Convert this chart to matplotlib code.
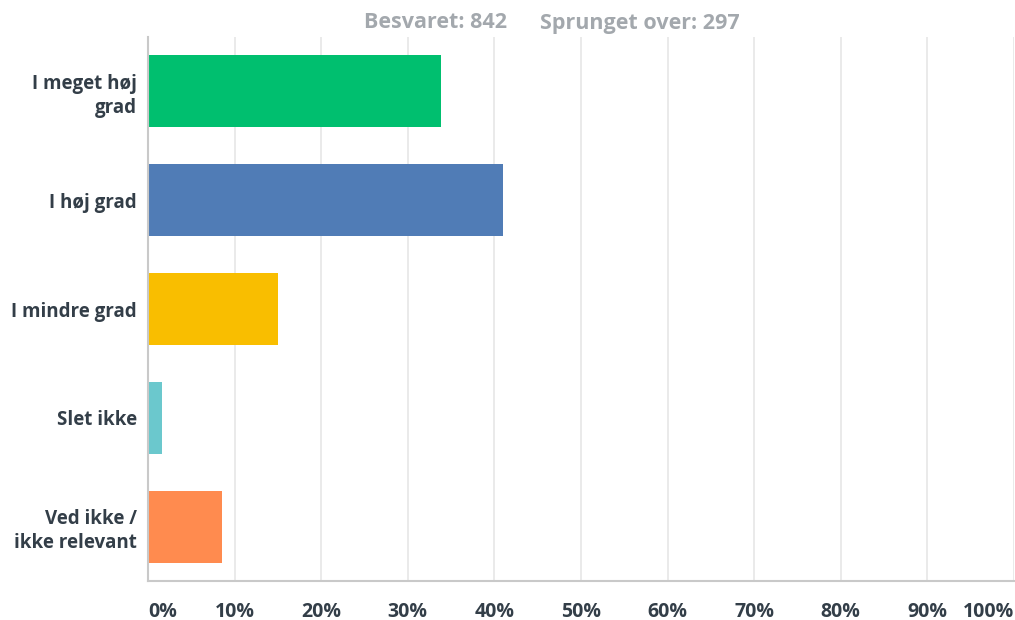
import matplotlib
matplotlib.use('Agg')
import matplotlib.pyplot as plt

# data
kategorier = ["I meget høj\ngrad", "I høj grad", "I mindre grad", "Slet ikke", "Ved ikke /\nikke relevant"]
andele = [33.8, 41.0, 15.0, 1.6, 8.5]
farver = ["#00bf6f", "#507cb6", "#f9be00", "#6bc8cd", "#ff8b4f"]
x_ticks = [0, 10, 20, 30, 40, 50, 60, 70, 80, 90, 100]
x_labels = [f"{t}%" for t in x_ticks]
besvaret = 842
sprunget = 297

TXT = "#333e48"
plt.rcParams['font.family'] = ['Open Sans', 'DejaVu Sans']

fig = plt.figure(figsize=(10.15, 6.2), dpi=100)
ax = fig.add_axes([148/1015, 39/620, 866/1015, 544/620])

ax.barh(range(len(kategorier)), andele, height=0.66, color=farver, zorder=2)
ax.set_ylim(4.5, -0.5)
ax.set_xlim(0, 100)

ax.set_xticks(x_ticks)
ax.set_xticklabels(x_labels, fontsize=14, fontweight='bold', color=TXT)
for i, lbl in enumerate(ax.get_xticklabels()):
    if i == 0:
        lbl.set_ha('left')
    elif i == len(x_ticks) - 1:
        lbl.set_ha('right')
ax.set_yticks(range(len(kategorier)))
ax.set_yticklabels(kategorier, fontsize=13.5, fontweight='bold', color=TXT, linespacing=1.25)
ax.tick_params(axis='both', length=0)
ax.tick_params(axis='x', pad=15)
ax.tick_params(axis='y', pad=8)

ax.grid(axis='x', color='#e6e6e6', linewidth=1.2, zorder=0)
ax.grid(axis='y', visible=False)
for s in ['top', 'right']:
    ax.spines[s].set_visible(False)
for s in ['left', 'bottom']:
    ax.spines[s].set_color('#c9c9c9')
    ax.spines[s].set_linewidth(1.5)

fig.text(436/1015, 1 - 23/620, f"Besvaret: {besvaret}", ha='center', va='center',
         fontsize=15.5, fontweight='bold', color='#a3a8ad', fontstretch='condensed')
fig.text(640/1015, 1 - 23/620, f"Sprunget over: {sprunget}", ha='center', va='center',
         fontsize=15.5, fontweight='bold', color='#a3a8ad', fontstretch='condensed')

fig.savefig("out.png", dpi=100)
